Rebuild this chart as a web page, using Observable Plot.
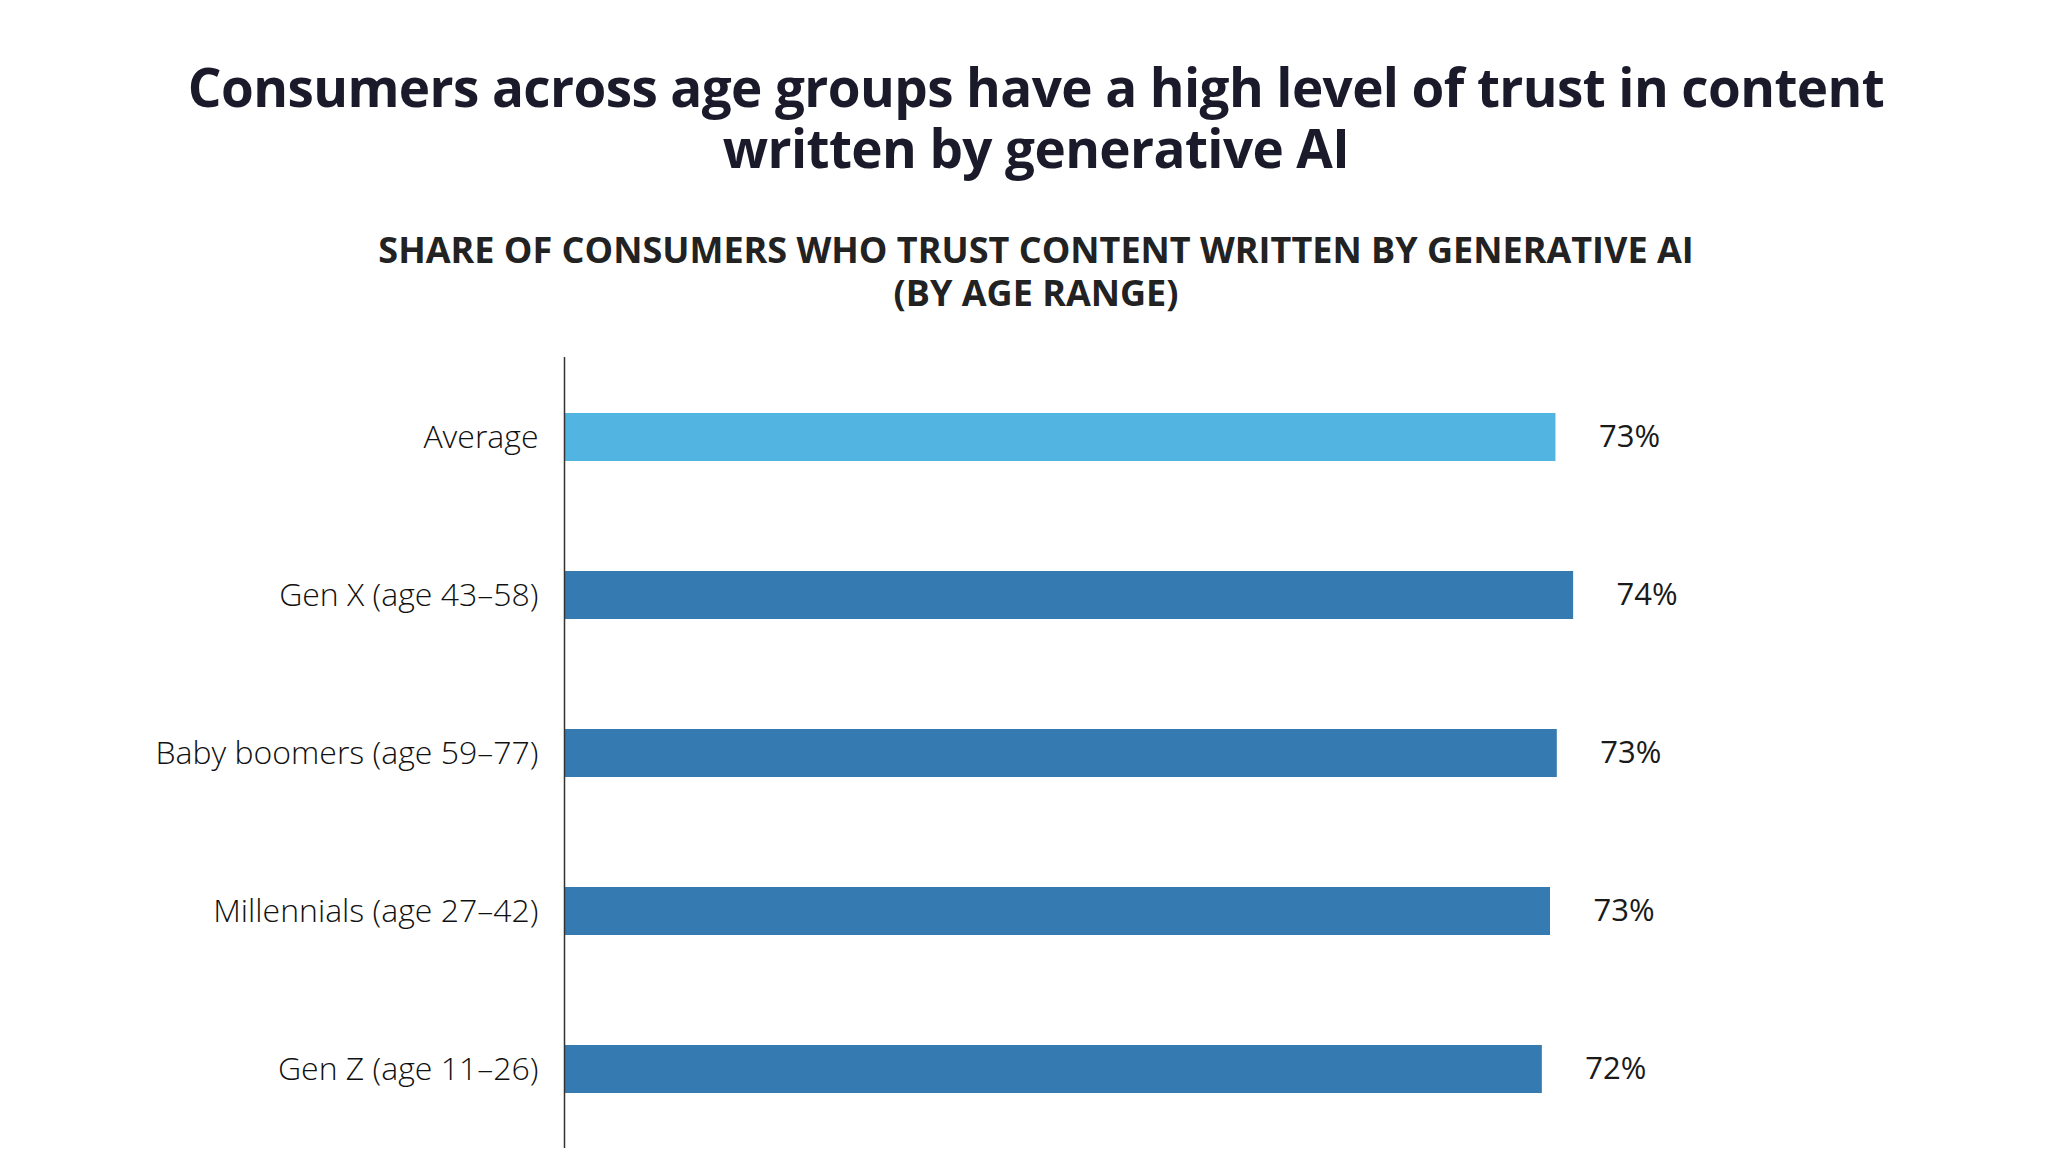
<!DOCTYPE html>
<html>
<head>
<meta charset="utf-8">
<script src="https://cdn.jsdelivr.net/npm/d3@7"></script>
<script src="https://cdn.jsdelivr.net/npm/@observablehq/plot@0.6"></script>
<style>
  html, body { margin: 0; padding: 0; background: #fff; }
  body { width: 2072px; height: 1165px; overflow: hidden; font-family: "Open Sans", "Noto Sans", sans-serif; }
  #header { height: 340px; box-sizing: border-box; padding-top: 56px; text-align: center; }
  .tline { display: block; height: 61px; line-height: 61px; font-size: 53px; font-weight: 700; color: #1a1a2a; letter-spacing: -0.6px; white-space: nowrap; }
  #subtitle { margin-top: 50px; }
  .sline { display: block; height: 43px; line-height: 43px; font-size: 36px; font-weight: 700; color: #222; white-space: nowrap; }
  #chart svg { display: block; }
</style>
</head>
<body>
<div id="header">
  <div id="title">
    <div class="tline">Consumers across age groups have a high level of trust in content</div>
    <div class="tline">written by generative AI</div>
  </div>
  <div id="subtitle">
    <div class="sline">SHARE OF CONSUMERS WHO TRUST CONTENT WRITTEN BY GENERATIVE AI</div>
    <div class="sline">(BY AGE RANGE)</div>
  </div>
</div>
<div id="chart"></div>
<script>
const categories = ["Average", "Gen X (age 43–58)", "Baby boomers (age 59–77)", "Millennials (age 27–42)", "Gen Z (age 11–26)"];
const values = [72.9, 74.2, 73.0, 72.5, 71.9];
const groups = ["average", "generation", "generation", "generation", "generation"];

const data = categories.map((c, i) => ({category: c, value: values[i], group: groups[i]}));

const chart = Plot.plot({
  width: 2072,
  height: 825,
  marginTop: 17,
  marginBottom: 17,
  marginLeft: 564,
  marginRight: 148,
  style: {fontFamily: "'Open Sans', 'Noto Sans', sans-serif", color: "#1a1a1a", background: "#fff"},
  x: {domain: [0, 100], axis: null},
  y: {domain: categories, paddingInner: 0.697, paddingOuter: 0.348, axis: null},
  color: {domain: ["average", "generation"], range: ["#52b5e1", "#357bb1"]},
  marks: [
    Plot.axisY({tickSize: 0, tickPadding: 26, fontSize: 32, fontWeight: 300, label: null, fill: "#111"}),
    Plot.barX(data, {x: "value", y: "category", fill: "group"}),
    Plot.ruleX([0], {stroke: "#333", strokeWidth: 1.5}),
    Plot.text(data, {x: "value", y: "category", text: d => d3.format(".0f")(d.value) + "%", dx: 43, textAnchor: "start", fontSize: 31, fill: "#1a1a1a"})
  ]
});
document.getElementById("chart").appendChild(chart);
</script>
</body>
</html>
